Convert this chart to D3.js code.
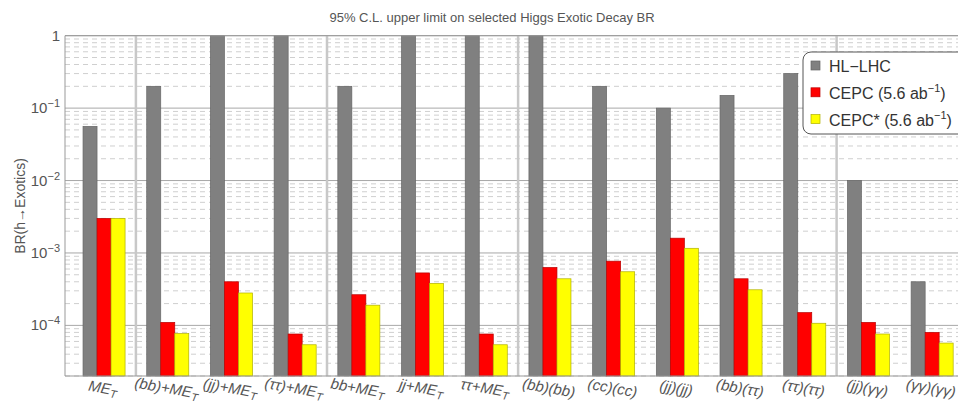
<!DOCTYPE html>
<html>
<head>
	<meta charset="utf-8">
	<title>Higgs Exotic Decay BR limits</title>
	<style>
		body { margin: 0; background: #fff; }
		svg { display: block; font-family: 'Liberation Sans', Arial, sans-serif; }
		.tick-label { fill: #555; font-size: 15px; }
		.cat-label { fill: #555; font-size: 15px; font-style: italic; }
		.title { fill: #555; font-size: 13px; }
		.legend-text { fill: #333; font-size: 16px; }
	</style>
</head>
<body>
<svg width="958" height="407"></svg>
<script src="https://d3js.org/d3.v7.min.js"></script>
<script>
	// categories, "_T" means subscript T
	let categories = ['ME_T', '(bb)+ME_T', '(jj)+ME_T', '(ττ)+ME_T', 'bb+ME_T', 'jj+ME_T', 'ττ+ME_T',
		'(bb)(bb)', '(cc)(cc)', '(jj)(jj)', '(bb)(ττ)', '(ττ)(ττ)', '(jj)(γγ)', '(γγ)(γγ)']

	let hlLhc    = [0.056, 0.2, 1, 1, 0.2, 1, 1, 1, 0.2, 0.1, 0.15, 0.3, 0.01, 4e-4]
	let cepc     = [3e-3, 1.1e-4, 4e-4, 7.6e-5, 2.65e-4, 5.3e-4, 7.6e-5, 6.3e-4, 7.7e-4, 1.6e-3, 4.4e-4, 1.5e-4, 1.1e-4, 8e-5]
	let cepcStar = [3e-3, 7.7e-5, 2.8e-4, 5.4e-5, 1.9e-4, 3.8e-4, 5.4e-5, 4.4e-4, 5.5e-4, 1.16e-3, 3.1e-4, 1.07e-4, 7.6e-5, 5.7e-5]

	// groups separated by vertical lines (index of first category in group)
	let groupStarts = [1, 4, 7, 12]

	let decades = [1, 1e-1, 1e-2, 1e-3, 1e-4]
	let decadeExp = ['0', '−1', '−2', '−3', '−4']

	let seriesNames = ['HL−LHC', 'CEPC', 'CEPC*']
	let colors = ['#808080', '#ff0000', '#ffff00']
	let strokes = ['#666666', '#b80000', '#b0b000']

	let svg = d3.select('svg')

	let plotLeft = 65, plotTop = 35.7, plotBottom = 376, plotRight = 975

	let x = d3.scaleBand()
		.domain(categories)
		.range([72.2, 964])
		.paddingInner(0.34)
		.paddingOuter(0.17)

	let xs = d3.scaleBand()
		.domain([0, 1, 2])
		.range([0, x.bandwidth()])

	let y = d3.scaleLog()
		.domain([2e-5, 1])
		.range([plotBottom, plotTop])

	// minor grid (dashed)
	let minor = y.ticks().filter(t => {
		let m = t / Math.pow(10, Math.floor(Math.log10(t) + 1e-9))
		return Math.round(m) != 1
	})
	svg.append('g')
		.selectAll('line')
		.data(minor)
		.join('line')
		.attr('x1', plotLeft).attr('x2', plotRight)
		.attr('y1', d => y(d)).attr('y2', d => y(d))
		.style('stroke', '#cfcfcf')
		.style('stroke-width', 1)
		.style('stroke-dasharray', '5,4')

	// major grid
	svg.append('g')
		.selectAll('line')
		.data(decades)
		.join('line')
		.attr('x1', plotLeft).attr('x2', plotRight)
		.attr('y1', d => y(d)).attr('y2', d => y(d))
		.style('stroke', '#a8a8a8')
		.style('stroke-width', 1)

	// group separators
	let gap = x.step() - x.bandwidth()
	svg.append('g')
		.selectAll('line')
		.data(groupStarts)
		.join('line')
		.attr('x1', d => x(categories[d]) - gap / 2)
		.attr('x2', d => x(categories[d]) - gap / 2)
		.attr('y1', plotTop).attr('y2', plotBottom)
		.style('stroke', '#c8c8c8')
		.style('stroke-width', 2.5)

	// bars
	let series = [hlLhc, cepc, cepcStar]
	series.forEach((vals, s) => {
		svg.append('g')
			.selectAll('rect')
			.data(vals)
			.join('rect')
			.attr('x', (d, i) => x(categories[i]) + xs(s))
			.attr('width', xs.bandwidth())
			.attr('y', d => y(d))
			.attr('height', d => plotBottom - y(d))
			.style('fill', colors[s])
			.style('stroke', strokes[s])
			.style('stroke-width', 0.7)
	})

	// frame
	svg.append('line')
		.attr('x1', plotLeft).attr('x2', plotLeft).attr('y1', plotTop).attr('y2', plotBottom)
		.style('stroke', '#999').style('stroke-width', 1)
	svg.append('line')
		.attr('x1', plotLeft).attr('x2', plotRight).attr('y1', plotBottom).attr('y2', plotBottom)
		.style('stroke', '#999').style('stroke-width', 1)
	svg.append('line')
		.attr('x1', plotLeft).attr('x2', plotRight).attr('y1', plotTop).attr('y2', plotTop)
		.style('stroke', '#999').style('stroke-width', 1)

	// y tick labels
	let yl = svg.append('g')
		.selectAll('text')
		.data(decades)
		.join('text')
		.attr('class', 'tick-label')
		.attr('x', 60)
		.attr('y', d => y(d) + 5)
		.attr('text-anchor', 'end')
	yl.each(function(d, i) {
		let t = d3.select(this)
		if (i == 0) {
			t.text('1')
		} else {
			t.append('tspan').text('10')
			t.append('tspan').attr('dy', -6).style('font-size', '11px').text(decadeExp[i])
		}
	})

	// category labels
	svg.append('g')
		.selectAll('text')
		.data(categories)
		.join('text')
		.attr('class', 'cat-label')
		.attr('text-anchor', 'middle')
		.attr('transform', d => {
			let cx = x(d) + x.bandwidth() / 2 - 2
			return `translate(${cx},393) rotate(10)`
		})
		.each(function(d) {
			let t = d3.select(this)
			let parts = d.split('_T')
			t.append('tspan').text(parts[0])
			if (parts.length > 1) {
				t.append('tspan').attr('dy', 3).style('font-size', '11px').text('T')
			}
		})

	// title
	svg.append('text')
		.attr('class', 'title')
		.attr('x', 492)
		.attr('y', 22)
		.attr('text-anchor', 'middle')
		.text('95% C.L. upper limit on selected Higgs Exotic Decay BR')

	// y axis label
	svg.append('text')
		.attr('class', 'tick-label')
		.attr('transform', 'translate(25,206) rotate(-90)')
		.attr('text-anchor', 'middle')
		.style('font-size', '14px')
		.text('BR(h→Exotics)')

	// legend
	let lg = svg.append('g').attr('transform', 'translate(803,52)')
	lg.append('rect')
		.attr('width', 180).attr('height', 82)
		.attr('rx', 8).attr('ry', 8)
		.style('fill', '#fff')
		.style('stroke', '#555')
		.style('stroke-width', 1)
	seriesNames.forEach((name, i) => {
		let ry = 14 + i * 26.8
		lg.append('rect')
			.attr('x', 8).attr('y', ry - 5)
			.attr('width', 9).attr('height', 9)
			.style('fill', colors[i])
			.style('stroke', strokes[i])
			.style('stroke-width', 0.7)
		let t = lg.append('text')
			.attr('class', 'legend-text')
			.attr('x', 26).attr('y', ry + 6)
		t.append('tspan').text(name)
		if (i > 0) {
			t.append('tspan').text(' (5.6 ab')
			t.append('tspan').attr('dy', -7).style('font-size', '11px').text('−1')
			t.append('tspan').attr('dy', 7).text(')')
		}
	})
</script>
</body>
</html>
